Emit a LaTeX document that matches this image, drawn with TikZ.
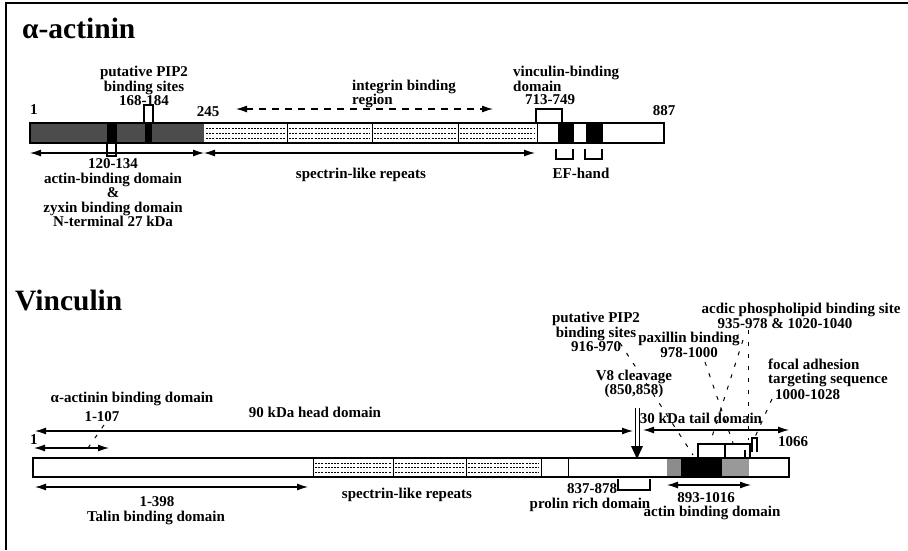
\documentclass[tikz,border=0pt]{standalone}
\usepackage{fontspec}
\setmainfont{Liberation Serif}
\usetikzlibrary{arrows.meta}
\tikzset{
  lbl/.style={font=\fontsize{15}{14.5}\selectfont\bfseries, inner sep=0pt, align=center},
  ttl/.style={font=\fontsize{29.5}{29.5}\selectfont\bfseries, inner sep=0pt, anchor=base west},
  dom/.style={{Latex[length=11pt,width=7pt]}-{Latex[length=11pt,width=7pt]}, line width=1.2pt},
  lead/.style={dash pattern=on 4pt off 8pt, line width=1pt},
  brk/.style={line width=1.2pt},
  bar/.style={draw, line width=2pt},
  rep/.style={dash pattern=on 2pt off 1.2pt, line width=0.7pt}
}
\begin{document}
\begin{tikzpicture}[x=1pt,y=-1pt]
\useasboundingbox (0,0) rectangle (908,550);
\draw[line width=1.2pt] (6,550) -- (6,3) -- (908,3);

\node[ttl] (atitle) at (22,38) {α-actinin};
\fill[black!70] (30,123) rectangle (204,143);
\fill (107,123) rectangle (117,143);
\fill (145,123) rectangle (152,143);
\fill (558,123) rectangle (574,143);
\fill (586,123) rectangle (603,143);
\foreach \a/\b in {204/287,287/372,372/458,458/537}{
  \foreach \y in {128,133,138} \draw[rep] (\a+2,\y) -- (\b-2,\y);
  \draw[line width=1pt] (\b,123) -- (\b,143);
}
\draw[bar] (30,123) rectangle (664,143);

\node[lbl] (a1) at (34,110) {1};
\node[lbl] (a245) at (208,112) {245};
\node[lbl] (a887) at (664,111) {887};
\node[lbl] (apip) at (144,86) {putative PIP2\\binding sites\\168-184};
\draw[brk] (144,123) |- (153,105) -- (153,123);
\node[lbl, anchor=west, align=left] (aint) at (352,94) {integrin binding\\region};
\node[lbl, anchor=west, align=left] (avbd) at (513,79) {vinculin-binding\\domain};
\node[lbl] (a713) at (550,100) {713-749};
\draw[brk] (536,123) |- (562,109) -- (562,123);
\draw[brk] (556,149) |- (573,159) -- (573,149);
\draw[brk] (585,149) |- (602,159) -- (602,149);
\node[lbl] (aef) at (581,173) {EF-hand};
\draw[brk] (107,143) |- (116,156) -- (116,143);
\node[lbl] (aabd) at (113,193) {120-134\\actin-binding domain\\\&\\zyxin binding domain\\N-terminal 27 kDa};
\node[lbl] (aspec) at (361,175) {spectrin-like repeats};

\coordinate (intL) at (236,109);
\coordinate (intR) at (493,109);
\coordinate (abdL) at (30,153);
\coordinate (abdR) at (204,153);
\coordinate (spL) at (204,153);
\coordinate (spR) at (535,153);
\draw[dom, dash pattern=on 7pt off 6pt] (intL) -- (intR);
\draw[dom] (abdL) -- (abdR);
\draw[dom] (spL) -- (spR);

\node[ttl] (vtitle) at (15,310) {Vinculin};
\fill[black!45] (667,458) rectangle (681,477);
\fill (681,458) rectangle (722,477);
\fill[black!40] (722,458) rectangle (749,477);
\foreach \a/\b in {313/393,393/466,466/541}{
  \foreach \y in {463,467.5,472} \draw[rep] (\a+2,\y) -- (\b-2,\y);
}
\foreach \x in {313,393,466,541,568} \draw[line width=1pt] (\x,458) -- (\x,477);
\draw[bar] (33,458) rectangle (789,477);

\node[lbl] (v1) at (34,440) {1};
\node[lbl] (v1066) at (793,442) {1066};
\node[lbl] (vaad) at (132,399) {α-actinin binding domain};
\node[lbl] (v107) at (102,417) {1-107};
\node[lbl] (vhead) at (315,412) {90 kDa head domain};
\node[lbl] (vv8) at (634,384) {V8 cleavage\\(850,858)};
\node[lbl] (vtail) at (701,418) {30 kDa tail domain};
\node[lbl] (vpip) at (596,332) {putative PIP2\\binding sites\\916-970};
\node[lbl] (vpax) at (689,345) {paxillin binding\\978-1000};
\node[lbl] (vacid) at (801,310) {acdic phospholipid binding site};
\node[lbl] (vacidn) at (785,323.5) {935-978 \& 1020-1040};
\node[lbl, anchor=west] (vfocal) at (768,364) {focal adhesion};
\node[lbl, anchor=west] (vtarget) at (768,380) {targeting sequence};
\node[lbl, anchor=west] (vfocaln) at (775,395) {1000-1028};
\node[lbl] (v837) at (592,489) {837-878};
\node[lbl] (vprol) at (590,505) {prolin rich domain};
\node[lbl] (v893) at (706,498) {893-1016};
\node[lbl] (vabd) at (712,513) {actin binding domain};
\node[lbl] (v398) at (157,502) {1-398};
\node[lbl] (vtalin) at (156,518) {Talin binding domain};
\node[lbl] (vspec) at (407,495) {spectrin-like repeats};

\draw[brk] (698,458) |- (750,444) -- (750,458);
\draw[brk] (725,444) -- (725,458);
\draw[brk] (745,450) -- (745,458);
\draw[brk] (752,452) |- (757,438) -- (757,452);
\draw[brk] (618,479) |- (650,490) -- (650,479);

\coordinate (aadL) at (34,448);
\coordinate (aadR) at (109,448);
\coordinate (headL) at (35,431);
\coordinate (headR) at (633,431);
\coordinate (tailL) at (643,430);
\coordinate (tailR) at (789,430);
\coordinate (abL) at (667,485);
\coordinate (abR) at (751,485);
\coordinate (talL) at (35,487);
\coordinate (talR) at (308,487);
\draw[dom] (aadL) -- (aadR);
\draw[dom] (headL) -- (headR);
\draw[dom] (tailL) -- (tailR);
\draw[dom] (abL) -- (abR);
\draw[dom] (talL) -- (talR);

\coordinate (v8a) at (635,408);
\coordinate (v8b) at (639,408);
\coordinate (v8tip) at (637,459);
\draw[line width=1pt] (v8a) -- (v8a |- 0,449) (v8b) -- (v8b |- 0,449);
\fill (631,446) -- (643,446) -- (v8tip) -- cycle;

\coordinate (l107a) at (104,425);
\coordinate (l107b) at (88,448);
\coordinate (lpipa) at (620,343);
\coordinate (lpipb) at (693,455);
\coordinate (lpaxa) at (705,362);
\coordinate (lpaxb) at (733,443);
\coordinate (lpaxc) at (743,340);
\coordinate (lpaxd) at (710,443);
\coordinate (lacida) at (748,330);
\coordinate (lacidb) at (748,440);
\coordinate (lfoca) at (772,399);
\coordinate (lfocb) at (755,437);
\draw[lead] (l107a) -- (l107b);
\draw[lead] (lpipa) -- (lpipb);
\draw[lead] (lpaxa) -- (lpaxb);
\draw[lead] (lpaxc) -- (lpaxd);
\draw[lead] (lacida) -- (lacidb);
\draw[lead] (lfoca) -- (lfocb);
\end{tikzpicture}
\end{document}
